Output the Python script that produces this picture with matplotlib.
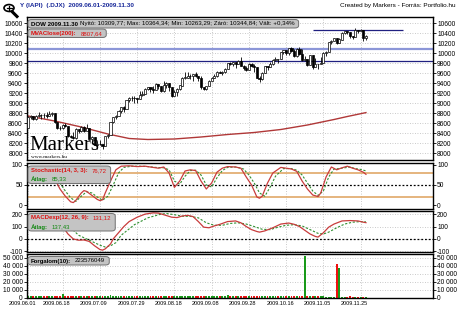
import matplotlib.pyplot as plt
import matplotlib.transforms as mtransforms
from matplotlib.patches import FancyBboxPatch, Circle
from matplotlib.lines import Line2D

# --- data -------------------------------------------------------------
day_labels = ['2009.06.01', '2009.06.18', '2009.07.09', '2009.07.29', '2009.08.18',
              '2009.09.08', '2009.09.28', '2009.10.16', '2009.11.05', '2009.11.25']
day_label_idx = [0, 13, 27, 41, 55, 69, 83, 97, 111, 125]

opens = [8500, 8721, 8741, 8675, 8750, 8763, 8764, 8763, 8739, 8771,
         8799, 8612, 8505, 8497, 8556, 8540, 8339, 8323, 8300, 8472,
         8438, 8529, 8447, 8504, 8281, 8325, 8164, 8178, 8183, 8147,
         8332, 8359, 8616, 8712, 8744, 8848, 8916, 8881, 9069, 9093,
         9109, 9097, 9071, 9154, 9172, 9287, 9320, 9281, 9256, 9370,
         9338, 9241, 9362, 9398, 9321, 9135, 9218, 9279, 9350, 9506,
         9509, 9539, 9544, 9581, 9544, 9496, 9311, 9281, 9345, 9441,
         9497, 9547, 9627, 9605, 9627, 9683, 9792, 9784, 9820, 9779,
         9830, 9749, 9707, 9665, 9789, 9742, 9712, 9509, 9488, 9600,
         9731, 9726, 9787, 9865, 9886, 9871, 10016, 10063, 9996, 10092,
         10041, 9949, 10081, 9972, 9868, 9882, 9763, 9963, 9713, 9789,
         9772, 9802, 10006, 10023, 10227, 10247, 10291, 10197, 10270, 10407,
         10437, 10426, 10332, 10318, 10451, 10434, 10464, 10310]
highs = [8731, 8768, 8745, 8754, 8817, 8781, 8800, 8820, 8840, 8812,
         8799, 8620, 8540, 8588, 8602, 8540, 8366, 8418, 8500, 8472,
         8546, 8547, 8580, 8504, 8340, 8325, 8245, 8270, 8183, 8332,
         8379, 8629, 8725, 8760, 8865, 8926, 8945, 9070, 9111, 9139,
         9140, 9097, 9240, 9234, 9304, 9322, 9326, 9331, 9398, 9373,
         9338, 9439, 9425, 9398, 9321, 9264, 9296, 9366, 9512, 9620,
         9630, 9572, 9587, 9630, 9544, 9532, 9318, 9345, 9455, 9520,
         9579, 9634, 9644, 9634, 9692, 9802, 9829, 9826, 9820, 9860,
         9917, 9764, 9736, 9804, 9807, 9774, 9712, 9543, 9629, 9750,
         9740, 9829, 9872, 9921, 9886, 10020, 10070, 10063, 10100, 10119,
         10078, 10095, 10120, 10078, 9931, 9882, 9970, 9963, 9903, 9789,
         9925, 10012, 10050, 10230, 10270, 10310, 10291, 10300, 10420, 10440,
         10446, 10426, 10345, 10497, 10458, 10480, 10464, 10364]
lows = [8500, 8688, 8660, 8665, 8713, 8680, 8700, 8702, 8731, 8750,
        8600, 8490, 8453, 8483, 8520, 8325, 8299, 8285, 8290, 8397,
        8430, 8430, 8447, 8272, 8226, 8156, 8087, 8153, 8088, 8145,
        8292, 8359, 8601, 8680, 8740, 8810, 8818, 8878, 9016, 9042,
        9002, 8996, 9071, 9136, 9172, 9258, 9227, 9210, 9256, 9285,
        9217, 9230, 9310, 9247, 9116, 9135, 9146, 9263, 9350, 9490,
        9509, 9483, 9441, 9520, 9446, 9289, 9253, 9263, 9340, 9441,
        9497, 9516, 9591, 9555, 9610, 9683, 9763, 9747, 9700, 9779,
        9739, 9657, 9650, 9665, 9720, 9626, 9499, 9430, 9468, 9600,
        9669, 9726, 9770, 9844, 9799, 9871, 9979, 9957, 9960, 10012,
        9925, 9920, 9952, 9845, 9835, 9750, 9763, 9683, 9713, 9679,
        9772, 9802, 9950, 10023, 10180, 10240, 10180, 10197, 10270, 10380,
        10372, 10300, 10280, 10318, 10400, 10434, 10231, 10263]
closes = [8721, 8741, 8675, 8750, 8763, 8764, 8763, 8739, 8771, 8799,
          8612, 8505, 8497, 8556, 8540, 8339, 8323, 8300, 8472, 8438,
          8529, 8447, 8504, 8281, 8325, 8164, 8178, 8183, 8147, 8332,
          8359, 8616, 8712, 8744, 8848, 8916, 8881, 9069, 9093, 9109,
          9097, 9071, 9154, 9172, 9287, 9320, 9281, 9256, 9370, 9338,
          9241, 9362, 9398, 9321, 9135, 9218, 9279, 9350, 9506, 9509,
          9539, 9544, 9581, 9544, 9496, 9311, 9281, 9345, 9441, 9497,
          9547, 9627, 9605, 9627, 9683, 9792, 9784, 9820, 9779, 9830,
          9749, 9707, 9665, 9789, 9742, 9712, 9509, 9488, 9600, 9731,
          9726, 9787, 9865, 9886, 9871, 10016, 10063, 9996, 10092, 10041,
          9949, 10081, 9972, 9868, 9882, 9763, 9963, 9713, 9789, 9772,
          9802, 10006, 10023, 10227, 10247, 10291, 10197, 10270, 10407, 10437,
          10426, 10332, 10318, 10451, 10434, 10464, 10310, 10345]

ma_idx = [0, 10, 20, 30, 38, 45, 55, 65, 75, 85, 95, 105, 115, 120, 127]
ma_val = [8740, 8640, 8520, 8380, 8290, 8270, 8280, 8320, 8370, 8410, 8470, 8560, 8670, 8730, 8808]

level_lines = [10080, 9840]
resist_level = 10455
resist_span = (107, 141)

stoch_k_idx = [0, 3, 6, 9, 10, 12, 14, 16, 17, 18, 20, 21, 22, 24, 26, 27, 28, 29, 31, 33,
               35, 38, 41, 44, 47, 49, 51, 53, 55, 57, 59, 61, 63, 65, 67, 69, 71, 73, 75, 78,
               80, 82, 84, 86, 87, 88, 90, 92, 95, 97, 99, 101, 103, 105, 107, 109, 110, 112, 114, 116,
               118, 120, 122, 124, 126, 127]
stoch_k = [92, 88, 90, 88, 65, 40, 22, 8, 6, 12, 30, 36, 34, 24, 14, 11, 13, 30, 60, 88,
           97, 98, 96, 97, 94, 92, 95, 80, 44, 60, 85, 88, 86, 60, 40, 55, 82, 92, 96, 95,
           92, 70, 50, 20, 17, 22, 55, 80, 94, 92, 90, 84, 60, 40, 25, 21, 30, 70, 95, 88,
           93, 97, 92, 88, 82, 76.72]
stoch_d_idx = [0, 4, 8, 10, 12, 14, 16, 18, 20, 22, 24, 26, 28, 30, 32, 34, 36, 39, 42, 45,
               48, 51, 53, 55, 57, 59, 61, 63, 65, 67, 69, 71, 73, 75, 78, 81, 83, 85, 87, 89,
               91, 93, 96, 99, 101, 103, 105, 107, 109, 111, 113, 115, 117, 119, 121, 123, 125, 127]
stoch_d = [94, 90, 89, 80, 55, 35, 18, 9, 22, 33, 30, 20, 12, 22, 50, 80, 94, 97, 97, 96,
           94, 93, 88, 60, 52, 72, 86, 87, 75, 50, 45, 68, 86, 94, 95, 90, 75, 55, 30, 22,
           45, 72, 91, 91, 87, 75, 55, 35, 24, 35, 70, 90, 91, 93, 95, 91, 89, 85.33]

macd_idx = [0, 3, 6, 8, 10, 12, 14, 15, 17, 19, 21, 23, 25, 27, 28, 29, 31, 32, 34, 36,
            38, 41, 44, 47, 49, 51, 54, 56, 58, 60, 62, 64, 66, 68, 70, 72, 75, 78, 80, 82,
            84, 86, 87, 89, 92, 95, 98, 100, 102, 104, 106, 108, 109, 111, 113, 115, 118, 121, 124, 126,
            127]
macd = [120, 130, 135, 138, 125, 100, 70, 40, 0, -10, -8, -20, -55, -85, -90, -80, -40, 0, 50, 100,
        140, 175, 200, 210, 208, 195, 175, 172, 185, 190, 180, 140, 95, 90, 105, 117, 140, 145, 130, 100,
        75, 60, 55, 65, 90, 120, 128, 118, 100, 70, 40, 20, 15, 50, 95, 120, 145, 148, 145, 135,
        131.12]
signal_idx = [0, 4, 8, 11, 14, 17, 19, 21, 23, 25, 27, 29, 31, 33, 35, 40, 45, 50, 52, 55,
              58, 61, 64, 67, 70, 73, 76, 79, 82, 85, 88, 91, 94, 97, 100, 103, 106, 109, 111, 113,
              116, 119, 122, 125, 127]
signal = [150, 145, 140, 132, 110, 70, 30, 10, -10, -30, -50, -65, -55, -30, 30, 115, 170, 200, 205, 195,
          183, 182, 170, 130, 110, 110, 125, 130, 120, 100, 78, 75, 95, 110, 115, 105, 75, 45, 40, 55,
          90, 120, 135, 140, 137.43]

volume = [2800, 2500, 2300, 2600, 2400, 2200, 2100, 2300, 2200, 2600,
          3000, 2900, 2700, 5200, 3100, 2800, 2500, 2600, 3000, 2700,
          2200, 2400, 2000, 2300, 2100, 2600, 2700, 2500, 2300, 2600,
          2800, 3200, 2900, 2600, 2400, 2500, 2700, 2900, 2600, 2300,
          2400, 2500, 2600, 2300, 2700, 2500, 2400, 2600, 2300, 2200,
          2500, 2600, 2400, 2300, 2900, 2700, 2500, 2600, 2800, 2400,
          2300, 2200, 2400, 2300, 2500, 2800, 2600, 2400, 2500, 2200,
          2300, 2400, 2300, 2200, 2500, 4000, 2600, 2800, 2300, 2200,
          2500, 2400, 2300, 2600, 2200, 2500, 2900, 2700, 2400, 2500,
          2300, 2400, 2800, 2400, 2300, 2900, 2600, 2700, 2800, 2500,
          2600, 2400, 2700, 2500, 52500, 3000, 2900, 2700, 2800, 2400,
          2300, 2500, 1800, 1500, 1700, 1600, 42000, 37500, 1800, 1700,
          1600, 1900, 1800, 1700, 1600, 1700, 1400, 1500]

# --- figure -----------------------------------------------------------
plt.rcParams['font.family'] = ['Liberation Sans', 'DejaVu Sans']
W, H = 458, 315
fig = plt.figure(figsize=(W / 100, H / 100), dpi=100)
fig.patch.set_facecolor('white')

def panel(top, bottom):
    return fig.add_axes([27 / W, 1 - bottom / H, (433 - 27) / W, (bottom - top) / H])

ax1 = panel(17, 160)
ax2 = panel(163, 209)
ax3 = panel(211, 252)
ax4 = panel(254, 298)

n = len(closes)
x = list(range(n))
for ax in (ax1, ax2, ax3, ax4):
    ax.set_xlim(-0.4, 152.2)
    ax.set_xticks(day_label_idx)
    ax.grid(True, color='#b8b8b8', ls=(0, (1, 2)), lw=0.6)
    ax.set_axisbelow(True)
    ax.tick_params(axis='y', which='both', left=True, right=True, labelleft=True, labelright=True,
                   direction='out', length=2, width=0.6, labelsize=4.8, pad=1)
    ax.tick_params(axis='x', length=0, labelbottom=False)
    for s in ax.spines.values():
        s.set_linewidth(1.0)

# main price panel
up = [c >= o for o, c in zip(opens, closes)]
ax1.vlines(x, lows, highs, color='black', lw=0.6, zorder=3)
ax1.bar(x, [abs(c - o) if abs(c - o) > 4 else 4 for o, c in zip(opens, closes)], width=0.8,
        bottom=[min(o, c) for o, c in zip(opens, closes)],
        color=['white' if u else 'black' for u in up], edgecolor='black', lw=0.5, zorder=4)
ax1.plot(ma_idx, ma_val, color='#b03838', lw=1.0, zorder=2)
ax1.axhline(level_lines[0], color='#8c96d8', lw=1.6, zorder=2)
ax1.axhline(level_lines[1], color='#202080', lw=0.9, zorder=2)
ax1.hlines(resist_level, resist_span[0], resist_span[1], color='#202080', lw=0.9, zorder=2)
ax1.set_ylim(7860, 10720)
ax1.set_yticks(range(8000, 10601, 200))

# stochastic
ax2.axhline(80, color='#e0a868', lw=1.2)
ax2.axhline(20, color='#e0a868', lw=1.2)
ax2.axhline(50, color='black', lw=0.9, ls=(0, (1.5, 1.5)))
ax2.plot(stoch_d_idx, stoch_d, color='#2f8f2f', lw=0.8, ls=(0, (2, 1.5)))
ax2.plot(stoch_k_idx, stoch_k, color='#c83c3c', lw=0.9)
ax2.set_ylim(-10, 105)
ax2.set_yticks([0, 50, 100])
ax2.grid(False, axis='y')

# MACD
ax3.axhline(0, color='black', lw=0.9, ls=(0, (1.5, 1.5)))
ax3.plot(signal_idx, signal, color='#2f8f2f', lw=0.8, ls=(0, (2, 1.5)))
ax3.plot(macd_idx, macd, color='#c83c3c', lw=0.9)
ax3.set_ylim(-105, 225)
ax3.set_yticks([-100, 0, 100, 200])
ax3.set_yticklabels(['-100', '0', '100', '200'])

# volume
ax4.bar(x, volume, width=0.7, color=['#1a9a1a' if u else '#ee1111' for u in up], lw=0)
ax4.set_ylim(0, 55000)
ax4.set_yticks([0, 10000, 20000, 30000, 40000, 50000])
ax4.set_yticklabels(['0', '10 000', '20 000', '30 000', '40 000', '50 000'])
ax4.tick_params(axis='x', labelbottom=True, labelsize=4, pad=2.5)
ax4.set_xticklabels(day_labels)
shift = mtransforms.ScaledTranslation(-6 / 100, 0, fig.dpi_scale_trans)
for lab in ax4.get_xticklabels():
    lab.set_transform(lab.get_transform() + shift)

# --- legend boxes -----------------------------------------------------
renderer = fig.canvas.get_renderer()

def box(x0, y0, w, h):
    p = FancyBboxPatch((x0 / W, 1 - (y0 + h) / H), w / W, h / H,
                       boxstyle='round,pad=0,rounding_size=0.008', transform=fig.transFigure,
                       facecolor='#c4c4c4', edgecolor='#707070', lw=0.7, zorder=10)
    fig.patches.append(p)

def line_of(x0, y0, parts, size=4.3, gap=2.5):
    xp = x0
    for s, color, weight in parts:
        t = fig.text(xp / W, 1 - y0 / H, s, color=color, fontweight=weight, fontsize=size,
                     ha='left', va='center', zorder=11)
        xp = t.get_window_extent(renderer=renderer).x1 + gap
    return xp

RED, GREEN = '#dd1111', '#118811'

end = line_of(31, 24, [('DOW 2009.11.30', 'black', 'bold'),
                       ('Nyitó: 10309,77; Max: 10364,34; Min: 10263,29; Záró: 10344,84; Vált: +0,34%',
                        'black', 'normal')], size=4.4)
box(28, 19.5, end - 28 + 1, 8.5)
end = line_of(31, 33.3, [('MVAClose(200):', RED, 'bold'), ('8807,64', RED, 'normal')], gap=4)
box(28, 29, end - 28, 8.5)

e1 = line_of(31, 170.5, [('Stochastic(14, 3, 3):', RED, 'bold'), ('76,72', RED, 'normal')], gap=4)
e2 = line_of(31, 179, [('Átlag:', GREEN, 'bold'), ('85,33', GREEN, 'normal')], gap=4)
box(28, 166, max(e1, e2) - 28, 17.5)

e1 = line_of(31, 218, [('MACDexp(12, 26, 9):', RED, 'bold'), ('131,12', RED, 'normal')], gap=4)
e2 = line_of(31, 226.5, [('Átlag:', GREEN, 'bold'), ('137,43', GREEN, 'normal')], gap=4)
box(28, 213.5, max(e1, e2) - 28, 17.5)

end = line_of(31, 261, [('Forgalom(10):', 'black', 'bold'), ('223576049', 'black', 'normal')], gap=4)
box(28, 256.5, end - 28, 8.5)

fig.text(20 / W, 1 - 6 / H, 'Y (IAPI)  (.DJX)  2009.06.01-2009.11.30', color='#1a2a9a',
         fontweight='bold', fontsize=4.6, va='center')
fig.text(455 / W, 1 - 6 / H, 'Created by Markers - Forrás: Portfolio.hu', fontsize=4.6,
         ha='right', va='center')

# magnifier icon
fig.patches.append(Circle((9 / W, 1 - 8 / H), 5 / W, transform=fig.transFigure,
                          facecolor='white', edgecolor='black', lw=1.2))
fig.lines.append(Line2D([6.5 / W, 11.5 / W], [1 - 8 / H, 1 - 8 / H], transform=fig.transFigure, color='black', lw=0.9))
fig.lines.append(Line2D([9 / W, 9 / W], [1 - 5.5 / H, 1 - 10.5 / H], transform=fig.transFigure, color='black', lw=0.9))
fig.lines.append(Line2D([12.5 / W, 17 / W], [1 - 12 / H, 1 - 16.5 / H], transform=fig.transFigure, color='black', lw=2.2))

# watermark
fig.text(29 / W, 1 - 150 / H, 'Markers', family='Liberation Serif', fontsize=15, color='black',
         va='baseline', zorder=12)
fig.text(31 / W, 1 - 157.3 / H, 'www.markers.hu', family='Liberation Serif', fontsize=3.8,
         color='black', va='center', zorder=12)

fig.savefig('out.png', dpi=100)
